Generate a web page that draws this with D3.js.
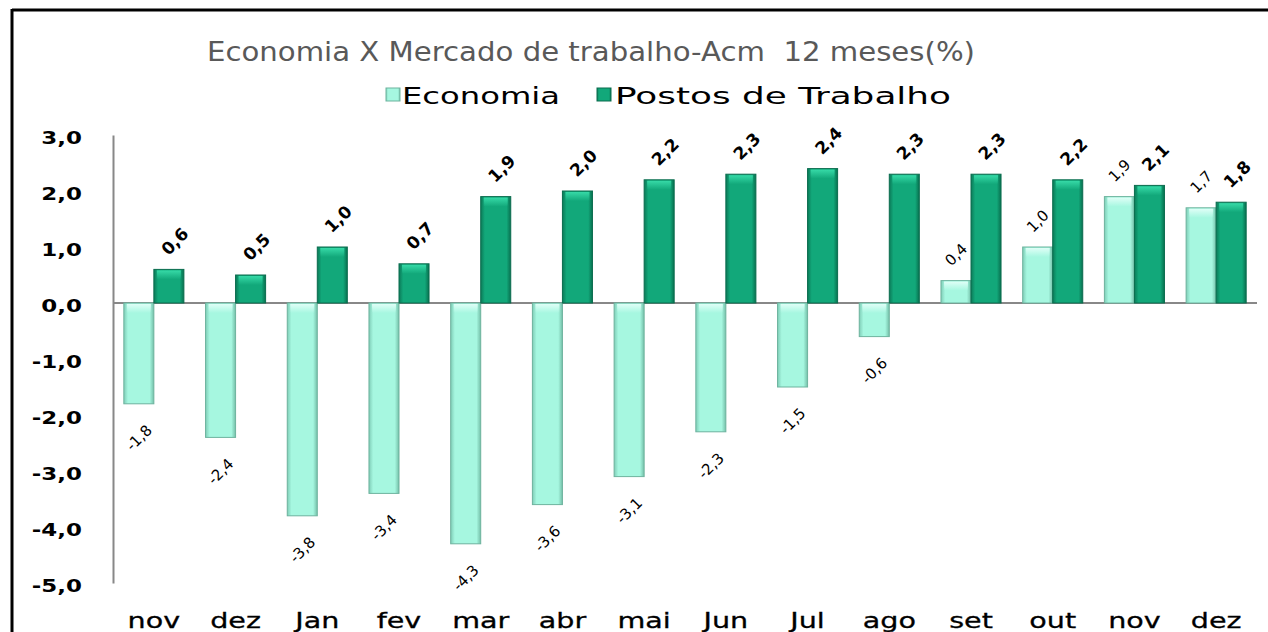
<!DOCTYPE html>
<html lang="pt">
<head>
<meta charset="UTF-8">
<title>Economia X Mercado de trabalho</title>
<script src="https://d3js.org/d3.v7.min.js"></script>
<style>
  body { margin: 0; background: #fff; }
  text { font-family: "DejaVu Sans", Verdana, sans-serif; white-space: pre; }
</style>
</head>
<body>
<svg id="chart" width="1268" height="632"></svg>
<script>
// dados
var meses = ['nov', 'dez', 'Jan', 'fev', 'mar', 'abr', 'mai', 'Jun', 'Jul', 'ago', 'set', 'out', 'nov', 'dez'];
var economia = [-1.8, -2.4, -3.8, -3.4, -4.3, -3.6, -3.1, -2.3, -1.5, -0.6, 0.4, 1.0, 1.9, 1.7];
var postos = [0.6, 0.5, 1.0, 0.7, 1.9, 2.0, 2.2, 2.3, 2.4, 2.3, 2.3, 2.2, 2.1, 1.8];
var yTicks = [3, 2, 1, 0, -1, -2, -3, -4, -5];
var series = [
    { key: 'econ', name: 'Economia', values: economia },
    { key: 'postos', name: 'Postos de Trabalho', values: postos }
];

var svg = d3.select('#chart');
var sx = 1.35; // o original é esticado na horizontal
var fmt = v => v.toFixed(1).replace('.', ',');

var defs = svg.append('defs');
function hGrad(id, edgeL, mid, edgeR) {
    var g = defs.append('linearGradient').attr('id', id).attr('x1', 0).attr('x2', 1).attr('y1', 0).attr('y2', 0);
    g.append('stop').attr('offset', '0%').attr('stop-color', edgeL);
    g.append('stop').attr('offset', '14%').attr('stop-color', mid);
    g.append('stop').attr('offset', '86%').attr('stop-color', mid);
    g.append('stop').attr('offset', '100%').attr('stop-color', edgeR);
}
function vGrad(id, col) {
    var g = defs.append('linearGradient').attr('id', id).attr('x1', 0).attr('x2', 0).attr('y1', 0).attr('y2', 1);
    g.append('stop').attr('offset', '0%').attr('stop-color', col).attr('stop-opacity', 0.95);
    g.append('stop').attr('offset', '100%').attr('stop-color', col).attr('stop-opacity', 0);
}
hGrad('g-econ', '#7fcdb7', '#a6f7e0', '#74bfa8');
hGrad('g-postos', '#0b7a58', '#12a87a', '#08704f');
vGrad('h-econ', '#e2fff8');
vGrad('h-postos', '#38dca9');

var colors = { econ: 'url(#g-econ)', postos: 'url(#g-postos)' };
var strokes = { econ: '#6db39e', postos: '#0a6c4e' };

// moldura
svg.append('line').attr('x1', 12).attr('x2', 1268).attr('y1', 10).attr('y2', 10)
    .attr('stroke', '#000').attr('stroke-width', 3);
svg.append('line').attr('x1', 12).attr('x2', 12).attr('y1', 9).attr('y2', 632)
    .attr('stroke', '#000').attr('stroke-width', 3);

// título
svg.append('text')
    .attr('x', 207).attr('y', 61)
    .attr('textLength', 768).attr('lengthAdjust', 'spacingAndGlyphs')
    .style('font-size', '26px').style('fill', '#595959')
    .text('Economia X Mercado de trabalho-Acm  12 meses(%)');

// legenda
var legend = [
    { key: 'econ', name: 'Economia', sw: 386, tx: 402, len: 158 },
    { key: 'postos', name: 'Postos de Trabalho', sw: 597, tx: 615, len: 336 }
];
legend.forEach(l => {
    svg.append('rect').attr('x', l.sw).attr('y', 88).attr('width', 14).attr('height', 13)
        .attr('fill', colors[l.key]).attr('stroke', strokes[l.key]).attr('stroke-width', 1);
    svg.append('text').attr('x', l.tx).attr('y', 104)
        .attr('textLength', l.len).attr('lengthAdjust', 'spacingAndGlyphs')
        .style('font-size', '23px').style('fill', '#000')
        .text(l.name);
});

var x = d3.scaleBand()
    .domain(d3.range(meses.length))
    .range([113, 1257])
    .paddingInner(0.265)
    .paddingOuter(0.1325);
var xs = d3.scaleBand().domain(series.map(s => s.key)).range([0, x.bandwidth()]);
var y = d3.scaleLinear().domain([-5, 3]).range([583, 135]);

// eixo y
var yAxis = d3.axisLeft(y).tickValues(yTicks).tickSize(0).tickFormat('');
svg.append('g').attr('transform', 'translate(113,0)').call(yAxis)
    .select('.domain').attr('stroke', '#888').attr('stroke-width', 2);
svg.append('g').selectAll('text').data(yTicks).enter().append('text')
    .attr('transform', d => `translate(82,${y(d) + 9}) scale(${sx},1)`)
    .attr('text-anchor', 'end')
    .style('font-size', '17px').style('font-weight', 'bold')
    .text(fmt);

// linha do zero
svg.append('line').attr('x1', 113).attr('x2', 1257).attr('y1', y(0)).attr('y2', y(0))
    .attr('stroke', '#888').attr('stroke-width', 2);

// meses
svg.append('g').selectAll('text').data(meses).enter().append('text')
    .attr('transform', (d, i) => `translate(${x(i) + x.bandwidth() / 2},628) scale(1.3,1)`)
    .attr('text-anchor', 'middle')
    .style('font-size', '22px')
    .style('stroke', '#000').style('stroke-width', 0.3)
    .text(d => d);

// barras
series.forEach(s => {
    var g = svg.append('g');
    var bx = i => x(i) + xs(s.key);
    var bw = xs.bandwidth();
    g.selectAll('rect.bar').data(s.values).enter().append('rect')
        .attr('class', 'bar')
        .attr('x', (d, i) => bx(i))
        .attr('y', d => y(Math.max(0, d)))
        .attr('width', bw)
        .attr('height', d => Math.abs(y(d) - y(0)))
        .attr('fill', colors[s.key])
        .attr('stroke', strokes[s.key]).attr('stroke-width', 1);
    g.selectAll('rect.hl').data(s.values).enter().append('rect')
        .attr('class', 'hl')
        .attr('x', (d, i) => bx(i) + 3)
        .attr('y', d => y(Math.max(0, d)) + 1)
        .attr('width', bw - 6)
        .attr('height', d => Math.min(9, Math.abs(y(d) - y(0)) - 2))
        .attr('fill', 'url(#h-' + s.key + ')');

    // rótulos inclinados
    g.selectAll('text').data(s.values).enter().append('text')
        .attr('transform', (d, i) => {
            var cx = bx(i) + bw / 2 + (s.key === 'postos' ? 6 : 0);
            var cy = d >= 0 ? y(d) - (s.key === 'postos' ? 28 : 26) : y(d) + 34;
            return `translate(${cx},${cy}) rotate(-45)`;
        })
        .attr('text-anchor', 'middle')
        .attr('dy', '0.35em')
        .style('font-size', s.key === 'postos' ? '17px' : '15px')
        .style('font-weight', s.key === 'postos' ? 'bold' : 'normal')
        .text(fmt);
});
</script>
</body>
</html>
